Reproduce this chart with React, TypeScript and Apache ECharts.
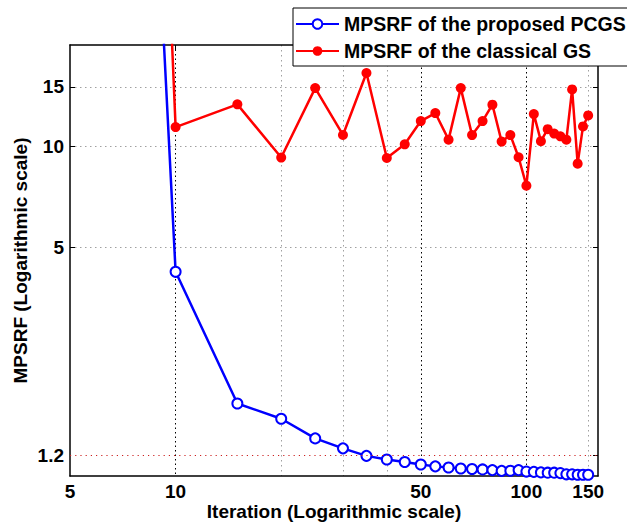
import React, { useEffect, useRef } from "react";
import * as echarts from "echarts";

const iterations = [5, 10, 15, 20, 25, 30, 35, 40, 45, 50, 55, 60, 65, 70, 75, 80, 85, 90, 95, 100, 105, 110, 115, 120, 125, 130, 135, 140, 145, 150];
const pcgsValues = [6e6, 4.22, 1.71, 1.54, 1.346, 1.257, 1.194, 1.165, 1.145, 1.125, 1.111, 1.102, 1.095, 1.091, 1.088, 1.083, 1.077, 1.078, 1.083, 1.072, 1.07, 1.066, 1.064, 1.064, 1.061, 1.052, 1.052, 1.049, 1.049, 1.049];
const gsValues = [3e8, 11.39, 13.31, 9.24, 14.88, 10.79, 16.5, 9.21, 10.12, 11.87, 12.54, 10.45, 14.88, 10.78, 11.87, 13.28, 10.31, 10.78, 9.26, 7.62, 12.45, 10.34, 11.23, 10.89, 10.69, 10.45, 14.75, 8.86, 11.44, 12.34];
const seriesNames = ["MPSRF of the proposed PCGS", "MPSRF of the classical GS"];
const xTickLabels = [5, 10, 50, 100, 150];
const xMajorGrid = [10, 50, 100];
const xMinorGrid = [20, 30, 40, 150];
const yTickLabels = [1.2, 5, 10, 15];
const yGrid = [5, 10, 15];
const threshold = 1.2;

const FONT = "Liberation Sans";

export default function App() {
  const ref = useRef<HTMLDivElement>(null);
  useEffect(() => {
    if (!ref.current) return;
    const chart = echarts.init(ref.current, null, { renderer: "svg" });
    const toPairs = (vals: number[]) => iterations.map((it, i) => [it, vals[i]]);
    const blackAxis = { show: true, onZero: false, lineStyle: { color: "#000", width: 1.5 } };
    const greyDot = { show: true, lineStyle: { color: "#a0a0a0", width: 1, type: [1.5, 3.5] } };
    chart.setOption({
      animation: false,
      backgroundColor: "#fff",
      textStyle: { fontFamily: FONT },
      grid: { left: 70, top: 45, right: 29, bottom: 46, containLabel: false, outerBoundsMode: "none" },
      legend: {
        orient: "vertical",
        left: 293,
        top: 8,
        padding: [6, 8, 5, 2],
        itemGap: 7,
        itemWidth: 43,
        itemHeight: 12,
        backgroundColor: "#fff",
        borderColor: "#000",
        borderWidth: 1,
        borderRadius: 0,
        textStyle: { fontFamily: FONT, fontSize: 19.5, fontWeight: "bold", color: "#000" },
        data: seriesNames,
      },
      xAxis: [
        {
          type: "log",
          logBase: 10,
          min: 5,
          max: 160,
          position: "bottom",
          axisLine: blackAxis,
          axisTick: { show: false, customValues: xMinorGrid },
          axisLabel: {
            customValues: xTickLabels,
            fontFamily: FONT,
            fontSize: 19,
            fontWeight: "bold",
            color: "#000",
            margin: 6,
          },
          splitLine: greyDot,
          minorTick: { show: false },
          name: "Iteration (Logarithmic scale)",
          nameLocation: "middle",
          nameGap: 26,
          nameMoveOverlap: false,
          nameTextStyle: { fontFamily: FONT, fontSize: 19, fontWeight: "bold", color: "#000" },
        },
        {
          type: "log",
          logBase: 10,
          min: 5,
          max: 160,
          position: "top",
          axisLine: blackAxis,
          axisTick: { show: true, inside: true, length: 5, customValues: xMajorGrid, lineStyle: { color: "#000" } },
          axisLabel: { show: false },
          splitLine: { show: true, lineStyle: { color: "#000", width: 1, type: [1.5, 3] } },
        },
      ],
      yAxis: [
        {
          type: "log",
          logBase: 10,
          min: 1.04,
          max: 20,
          position: "left",
          axisLine: blackAxis,
          axisTick: { show: true, inside: true, length: 5, customValues: yGrid, lineStyle: { color: "#000" } },
          axisLabel: {
            customValues: yTickLabels,
            fontFamily: FONT,
            fontSize: 19,
            fontWeight: "bold",
            color: "#000",
            margin: 6,
          },
          splitLine: greyDot,
          name: "MPSRF (Logarithmic scale)",
          nameLocation: "middle",
          nameGap: 40,
          nameRotate: 90,
          nameMoveOverlap: false,
          nameTextStyle: { fontFamily: FONT, fontSize: 19, fontWeight: "bold", color: "#000" },
        },
        {
          type: "log",
          logBase: 10,
          min: 1.04,
          max: 20,
          position: "right",
          axisLine: blackAxis,
          axisTick: { show: true, inside: true, length: 5, customValues: yTickLabels, lineStyle: { color: "#000" } },
          axisLabel: { show: false },
          splitLine: { show: false },
        },
      ],
      series: [
        {
          name: seriesNames[0],
          type: "line",
          xAxisIndex: 0,
          yAxisIndex: 0,
          data: toPairs(pcgsValues),
          symbol: "emptyCircle",
          symbolSize: 10,
          showAllSymbol: true,
          color: "#0000ff",
          lineStyle: { color: "#0000ff", width: 2.5 },
          itemStyle: { color: "#0000ff", borderColor: "#0000ff", borderWidth: 2 },
          clip: true,
          z: 3,
          markLine: {
            silent: true,
            symbol: ["none", "none"],
            label: { show: false },
            lineStyle: { color: "#cc2020", width: 1, type: [1.2, 4] },
            data: [{ yAxis: threshold }],
          },
        },
        {
          name: seriesNames[1],
          type: "line",
          xAxisIndex: 0,
          yAxisIndex: 0,
          data: toPairs(gsValues),
          symbol: "circle",
          symbolSize: 10,
          showAllSymbol: true,
          color: "#ff0000",
          lineStyle: { color: "#ff0000", width: 2.5 },
          itemStyle: { color: "#ff0000" },
          clip: true,
          z: 3,
        },
      ],
    });
    return () => chart.dispose();
  }, []);
  return <div ref={ref} style={{ width: 627, height: 522, position: "absolute", left: 0, top: 0 }} />;
}
